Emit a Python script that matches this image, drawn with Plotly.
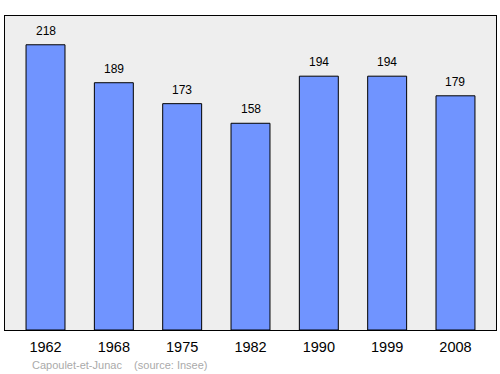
import plotly.graph_objects as go

years = ["1962", "1968", "1975", "1982", "1990", "1999", "2008"]
population = [218, 189, 173, 158, 194, 194, 179]
positions = list(range(len(years)))

fig = go.Figure()
fig.add_trace(go.Bar(
    x=positions, y=population, width=0.57,
    marker=dict(color="#7094ff", line=dict(color="#000000", width=1)),
    hoverinfo="skip",
))
for xp, v in zip(positions, population):
    fig.add_annotation(x=xp, y=v, text=str(v), showarrow=False,
                       yanchor="bottom", yshift=5,
                       font=dict(family="Liberation Sans, Arial, sans-serif", size=12, color="#000"))

fig.add_annotation(xref="paper", yref="paper", x=0.05, y=-0.087, xanchor="left", yanchor="top",
                   text="Capoulet-et-Junac &nbsp;&nbsp; (source: Insee)", showarrow=False,
                   font=dict(family="Liberation Sans, Arial, sans-serif", size=11, color="#aaaaaa"))

fig.update_layout(
    width=500, height=374,
    margin=dict(l=5, r=4, t=16, b=44),
    paper_bgcolor="#ffffff", plot_bgcolor="#eeeeee",
    showlegend=False,
    xaxis=dict(range=[-0.593, 6.593], tickvals=positions, ticktext=years,
               showgrid=False, zeroline=False, showline=True, mirror=True,
               linecolor="#000", linewidth=1, ticks="", ticklen=0, ticklabelstandoff=4,
               tickfont=dict(family="Liberation Sans, Arial, sans-serif", size=14.5, color="#000")),
    yaxis=dict(range=[0, 240], showgrid=False, zeroline=False, showticklabels=False,
               showline=True, mirror=True, linecolor="#000", linewidth=1, ticks=""),
)
fig.write_html("out.html")
